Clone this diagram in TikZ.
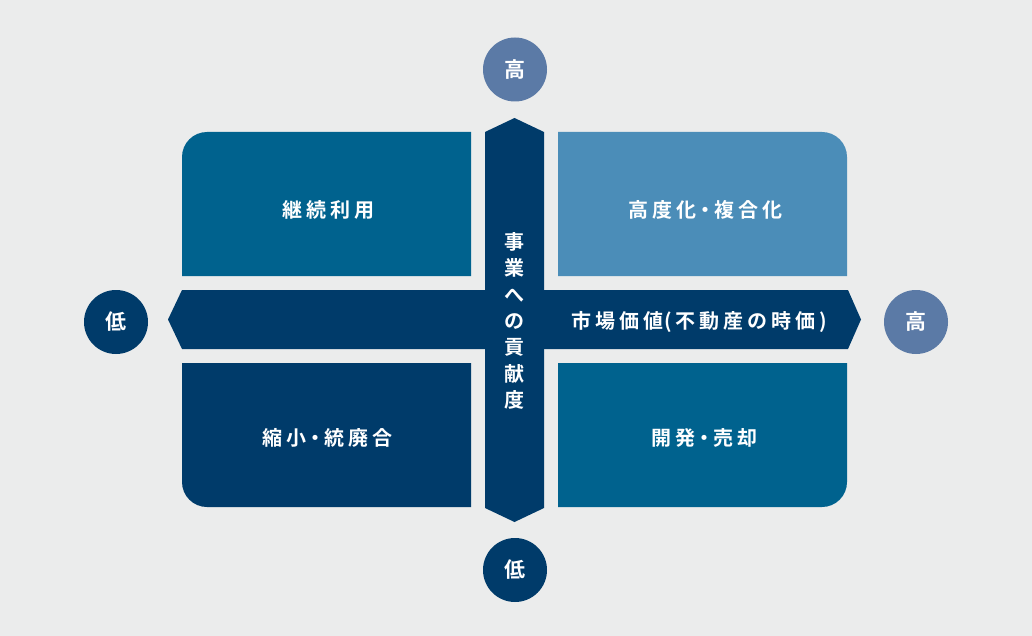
\documentclass[tikz,border=0pt]{standalone}
\usepackage{fontspec}
\setmainfont{Noto Sans CJK JP}[BoldFont={Noto Sans CJK JP Bold}]
\definecolor{bg}{HTML}{EBECEC}
\definecolor{navy}{HTML}{003B6A}
\definecolor{midblue}{HTML}{00628E}
\definecolor{lightblue}{HTML}{4B8DB8}
\definecolor{grayblue}{HTML}{5B7AA6}
\newcommand{\ndot}{\kern-1pt・\kern-1pt}
\begin{document}
\begin{tikzpicture}[x=1pt,y=-1pt,
  lbl/.style={text=white,inner sep=0pt,font=\fontsize{20}{22}\selectfont\bfseries\addfontfeature{LetterSpace=20}},
  circ/.style={circle,minimum size=64pt,inner sep=0pt,text=white,font=\fontsize{21}{22}\selectfont\bfseries}]
\fill[bg] (0,0) rectangle (1032,636);
\useasboundingbox (0,0) rectangle (1032,636);
% quadrant boxes
\fill[midblue] (471,276) -- (182,276) [rounded corners=25] -- (182,132) [sharp corners] -- (471,132) -- cycle;
\fill[lightblue] (558,276) -- (558,132) [rounded corners=25] -- (847,132) [sharp corners] -- (847,276) -- cycle;
\fill[navy] (471,363) -- (182,363) [rounded corners=25] -- (182,507) [sharp corners] -- (471,507) -- cycle;
\fill[midblue] (558,363) -- (558,507) [rounded corners=25] -- (847,507) [sharp corners] -- (847,363) -- cycle;
% arrows
\fill[navy] (168,319.5) -- (182,290) -- (848,290) -- (861,319.5) -- (848,349) -- (182,349) -- cycle;
\fill[navy] (514.5,118) -- (544,132) -- (544,508) -- (514.5,522) -- (485,508) -- (485,132) -- cycle;
% labels
\node[lbl] (tl) at (328,210) {継続利用};
\node[lbl] (tr) at (705,210) {高度化\ndot 複合化};
\node[lbl] (bl) at (327,438) {縮小\ndot 統廃合};
\node[lbl] (br) at (704,438) {開発\ndot 売却};
\node[lbl,anchor=west] (xax) at (571,322) {市場価値\kern1pt(不動産の時価)};
\node[lbl,align=center,font=\fontsize{20}{26.3}\selectfont\bfseries] (yax) at (514.5,321) {事\\業\\へ\\の\\貢\\献\\度};
% circles
\node[circ,fill=grayblue] (top) at (515,69.5) {高};
\node[circ,fill=navy] (bot) at (515,570) {低};
\node[circ,fill=navy] (left) at (116,322) {低};
\node[circ,fill=grayblue] (right) at (916,322) {高};
\end{tikzpicture}
\end{document}
